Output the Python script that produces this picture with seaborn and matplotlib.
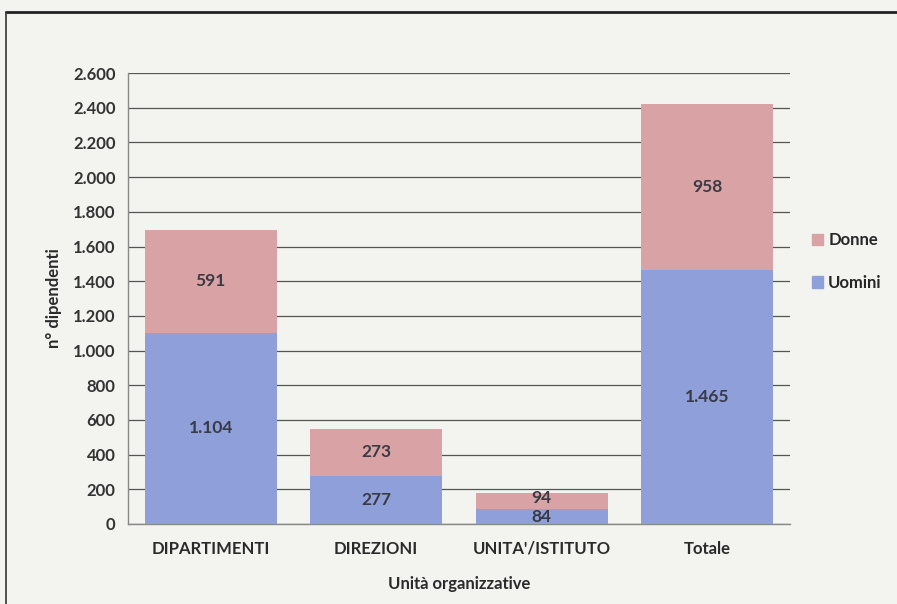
import matplotlib.pyplot as plt
import matplotlib.lines as mlines
import matplotlib.patches as mpatches
import seaborn as sns
import pandas as pd

# dati
unita = ['DIPARTIMENTI', 'DIREZIONI', "UNITA'/ISTITUTO", 'Totale']
uomini = [1104, 277, 84, 1465]
donne = [591, 273, 94, 958]
y_ticks = list(range(0, 2601, 200))

col_uomini = '#8e9fd9'
col_donne = '#d9a3a5'
sfondo = '#f3f3f0'


def fmt_it(v):
    # separatore delle migliaia con il punto
    return f'{v:,.0f}'.replace(',', '.')


df = pd.DataFrame({'unita': unita, 'Uomini': uomini, 'Donne': donne})
df['Totale'] = df['Uomini'] + df['Donne']

sns.set_style('white')
plt.rcParams['font.family'] = ['Lato', 'DejaVu Sans']

fig = plt.figure(figsize=(8.97, 6.04), dpi=100, facecolor=sfondo)
ax = fig.add_axes([0.1427, 0.1325, 0.738, 0.7465])
ax.set_facecolor(sfondo)

# barre impilate: prima il totale (donne in cima), poi gli uomini sopra
sns.barplot(data=df, x='unita', y='Totale', color=col_donne, width=0.8,
            saturation=1, linewidth=0, ax=ax, zorder=3)
sns.barplot(data=df, x='unita', y='Uomini', color=col_uomini, width=0.8,
            saturation=1, linewidth=0, ax=ax, zorder=3)

for i, row in df.iterrows():
    ax.text(i, row['Uomini'] / 2, fmt_it(row['Uomini']), ha='center', va='center',
            fontsize=12.5, fontweight='bold', color='#3a3a44', zorder=5)
    ax.text(i, row['Uomini'] + row['Donne'] / 2 + (20 if row['Donne'] < 150 else 0),
            fmt_it(row['Donne']), ha='center', va='center',
            fontsize=12.5, fontweight='bold', color='#3a3a44', zorder=5)

ax.set_ylim(0, 2600)
ax.set_xlim(-0.5, 3.5)
ax.set_yticks(y_ticks)
ax.set_yticklabels([fmt_it(v) for v in y_ticks], fontsize=12, fontweight='bold',
                   color='#333333')
ax.set_xticks(range(len(unita)))
ax.set_xticklabels(unita, fontsize=12, fontweight='bold', color='#2a2a2a')
ax.set_xticks([-0.5, 0.5, 1.5, 2.5, 3.5], minor=True)
ax.tick_params(axis='x', which='major', length=0, pad=12)
ax.tick_params(axis='x', which='minor', length=5, color='#888888', direction='out')
ax.tick_params(axis='y', length=5, color='#888888', direction='out', pad=4)

ax.yaxis.grid(True, color='#555555', linewidth=0.9, zorder=0)
ax.set_axisbelow(True)
for s in ['top', 'right']:
    ax.spines[s].set_visible(False)
for s in ['left', 'bottom']:
    ax.spines[s].set_color('#888888')
    ax.spines[s].set_linewidth(1)

ax.set_xlabel('Unità organizzative', fontsize=12, fontweight='bold',
              color='#2a2a2a', labelpad=14)
ax.set_ylabel('n° dipendenti', fontsize=12, fontweight='bold',
              color='#2a2a2a', labelpad=8)

handles = [mpatches.Patch(color=col_donne, label='Donne'),
           mpatches.Patch(color=col_uomini, label='Uomini')]
leg = fig.legend(handles=handles, loc='center left', bbox_to_anchor=(0.888, 0.567),
                 frameon=False, handlelength=0.7, handleheight=0.7,
                 handletextpad=0.3, labelspacing=1.6,
                 prop={'size': 12, 'weight': 'bold'})

# cornice del grafico (bordo superiore e sinistro della scansione)
fig.add_artist(mlines.Line2D([6 / 897, 1], [1 - 12 / 604, 1 - 12 / 604],
                             color='#222222', linewidth=2))
fig.add_artist(mlines.Line2D([6 / 897, 6 / 897], [0, 1 - 12 / 604],
                             color='#333333', linewidth=1.2))

fig.savefig('out.png', dpi=100, facecolor=sfondo)
